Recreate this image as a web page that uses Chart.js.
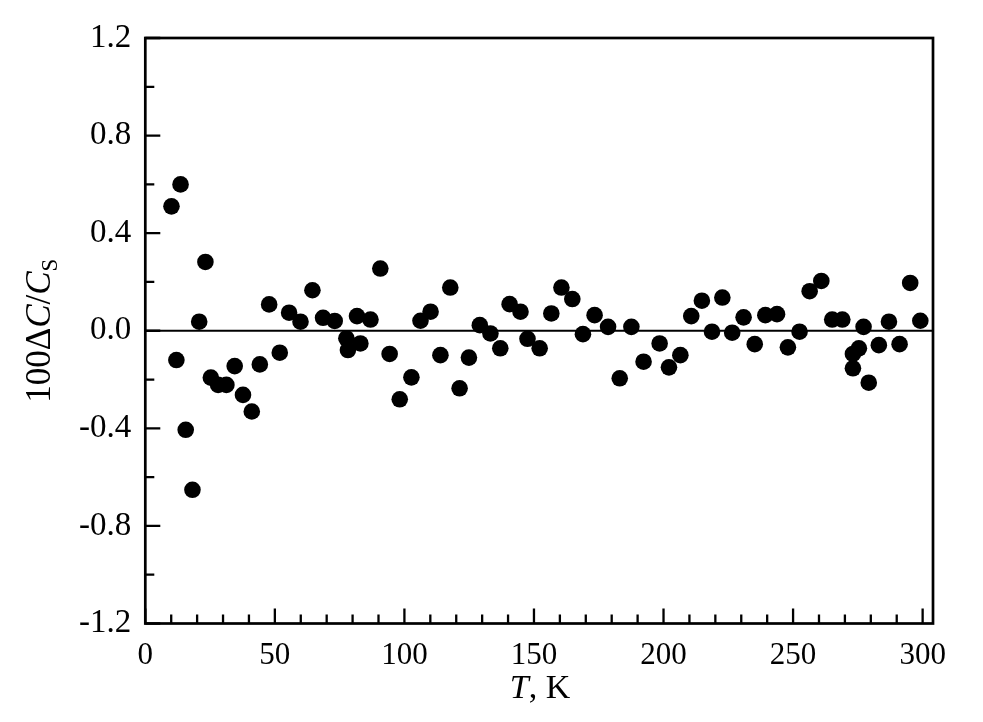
<!DOCTYPE html>
<html>
<head>
<meta charset="utf-8">
<script src="https://cdn.jsdelivr.net/npm/chart.js@4/dist/chart.umd.min.js"></script>
<style>
  html, body { margin: 0; padding: 0; background: #ffffff; }
  #wrap { width: 983px; height: 722px; }
</style>
</head>
<body>
<div id="wrap"><canvas id="c" width="983" height="722"></canvas></div>
<script>
// Temperature, K
const temps = [10.1, 12.0, 13.6, 15.6, 18.2, 20.8, 23.2, 25.3, 28.1, 31.3,
  34.5, 37.7, 41.1, 44.2, 47.8, 51.9, 55.5, 59.9, 64.5, 68.6,
  73.1, 77.6, 78.2, 81.7, 83.0, 86.9, 90.7, 94.3, 98.2, 102.7,
  106.2, 110.1, 113.9, 117.7, 121.3, 124.9, 129.1, 133.2, 137.0, 140.6,
  144.8, 147.5, 152.2, 156.7, 160.6, 164.8, 168.9, 173.4, 178.6, 183.1,
  187.6, 192.3, 198.5, 202.1, 206.5, 210.7, 214.8, 218.7, 222.7, 226.5,
  230.9, 235.2, 239.3, 243.8, 248.0, 252.5, 256.4, 260.9, 265.1, 269.0,
  273.1, 273.1, 275.4, 277.2, 279.2, 283.1, 287.0, 291.1, 295.2, 299.1];
// 100 ΔC / C_S
const deviations = [0.51, -0.12, 0.60, -0.406, -0.652, 0.037, 0.282, -0.192, -0.222, -0.222,
  -0.145, -0.263, -0.331, -0.138, 0.108, -0.09, 0.074, 0.037, 0.166, 0.053,
  0.04, -0.031, -0.079, 0.06, -0.052, 0.046, 0.255, -0.095, -0.281, -0.191,
  0.041, 0.078, -0.1, 0.177, -0.236, -0.11, 0.023, -0.011, -0.072, 0.109,
  0.078, -0.033, -0.072, 0.071, 0.177, 0.13, -0.014, 0.064, 0.016, -0.195,
  0.016, -0.127, -0.052, -0.15, -0.1, 0.06, 0.123, -0.004, 0.136, -0.008,
  0.055, -0.055, 0.064, 0.068, -0.068, -0.004, 0.162, 0.204, 0.046, 0.046,
  -0.095, -0.154, -0.072, 0.016, -0.213, -0.059, 0.037, -0.055, 0.196, 0.041];

const xTicks = [0, 50, 100, 150, 200, 250, 300];
const xMinorTicks = [10, 20, 30, 40, 60, 70, 80, 90, 110, 120, 130, 140, 160, 170, 180, 190,
  210, 220, 230, 240, 260, 270, 280, 290];
const yTicks = [-1.2, -0.8, -0.4, 0.0, 0.4, 0.8, 1.2];
const yMinorTicks = [-1.0, -0.6, -0.2, 0.2, 0.6, 1.0];
const xTitle = ['T', ', K'];
const yTitle = ['100Δ', 'C', '/', 'C', 'S'];

const FONT = '"Liberation Serif", "DejaVu Serif", serif';

const points = temps.map((t, i) => ({ x: t, y: deviations[i] }));

const framePlugin = {
  id: 'frame',
  afterDatasetsDraw(chart) {
    const { ctx, chartArea: a, scales } = chart;
    const xs = scales.x, ys = scales.y;
    ctx.save();
    ctx.strokeStyle = '#000';
    // zero line
    ctx.lineWidth = 2.2;
    const y0 = ys.getPixelForValue(0);
    ctx.beginPath();
    ctx.moveTo(a.left, y0);
    ctx.lineTo(a.right, y0);
    ctx.stroke();
    // frame
    ctx.lineWidth = 2.7;
    ctx.strokeRect(a.left, a.top, a.right - a.left, a.bottom - a.top);
    // inward ticks
    ctx.lineWidth = 2.3;
    ctx.beginPath();
    xTicks.forEach(v => {
      const px = xs.getPixelForValue(v);
      ctx.moveTo(px, a.bottom); ctx.lineTo(px, a.bottom - 15);
    });
    xMinorTicks.forEach(v => {
      const px = xs.getPixelForValue(v);
      ctx.moveTo(px, a.bottom); ctx.lineTo(px, a.bottom - 9);
    });
    yTicks.forEach(v => {
      const py = ys.getPixelForValue(v);
      ctx.moveTo(a.left, py); ctx.lineTo(a.left + 15, py);
    });
    yMinorTicks.forEach(v => {
      const py = ys.getPixelForValue(v);
      ctx.moveTo(a.left, py); ctx.lineTo(a.left + 9, py);
    });
    ctx.stroke();

    // axis titles
    ctx.fillStyle = '#000';
    ctx.textBaseline = 'alphabetic';
    ctx.textAlign = 'left';
    // x title
    const xup = '34px ' + FONT, xit = 'italic 34px ' + FONT;
    ctx.font = xit; const wT = ctx.measureText(xTitle[0]).width;
    ctx.font = xup; const wK = ctx.measureText(xTitle[1]).width;
    const xc = 540;
    let sx = xc - (wT + wK) / 2;
    const by = 698;
    ctx.font = xit; ctx.fillText(xTitle[0], sx, by);
    ctx.font = xup; ctx.fillText(xTitle[1], sx + wT, by);
    // y title, rotated
    const up = '35px ' + FONT, it = 'italic 35px ' + FONT, sub = '23px ' + FONT;
    const parts = [[yTitle[0], up, 0], [yTitle[1], it, 0], [yTitle[2], up, 0], [yTitle[3], it, 0], [yTitle[4], sub, 7]];
    let total = 0;
    parts.forEach(p => { ctx.font = p[1]; p.push(ctx.measureText(p[0]).width); total += p[3]; });
    ctx.translate(50, (a.top + a.bottom) / 2);
    ctx.rotate(-Math.PI / 2);
    let cx = -total / 2;
    parts.forEach(p => {
      ctx.font = p[1];
      ctx.fillText(p[0], cx, p[2]);
      cx += p[3];
    });
    ctx.restore();
  }
};

new Chart(document.getElementById('c'), {
  type: 'scatter',
  data: {
    datasets: [{
      data: points,
      backgroundColor: '#000',
      borderColor: '#000',
      pointRadius: 8.3,
      pointHoverRadius: 8.3,
      pointStyle: 'circle',
      borderWidth: 0
    }]
  },
  options: {
    responsive: false,
    devicePixelRatio: 1,
    animation: false,
    events: [],
    layout: { padding: { left: 0, top: 38, right: 50, bottom: 0 } },
    plugins: { legend: { display: false }, tooltip: { enabled: false } },
    scales: {
      x: {
        type: 'linear',
        min: 0, max: 304,
        grid: { display: false, drawTicks: false },
        border: { display: false },
        afterBuildTicks: s => { s.ticks = xTicks.map(v => ({ value: v })); },
        afterFit: s => { s.height = 98.5; },
        ticks: {
          color: '#000',
          font: { family: FONT, size: 31 },
          padding: 14,
          maxRotation: 0,
          callback: v => String(v)
        }
      },
      y: {
        type: 'linear',
        min: -1.2, max: 1.2,
        grid: { display: false, drawTicks: false },
        border: { display: false },
        afterBuildTicks: s => { s.ticks = yTicks.map(v => ({ value: v })); },
        afterFit: s => { s.width = 145.3; },
        ticks: {
          color: '#000',
          font: { family: FONT, size: 33 },
          padding: 14,
          callback: v => Number(v).toFixed(1)
        }
      }
    }
  },
  plugins: [framePlugin]
});
</script>
</body>
</html>
